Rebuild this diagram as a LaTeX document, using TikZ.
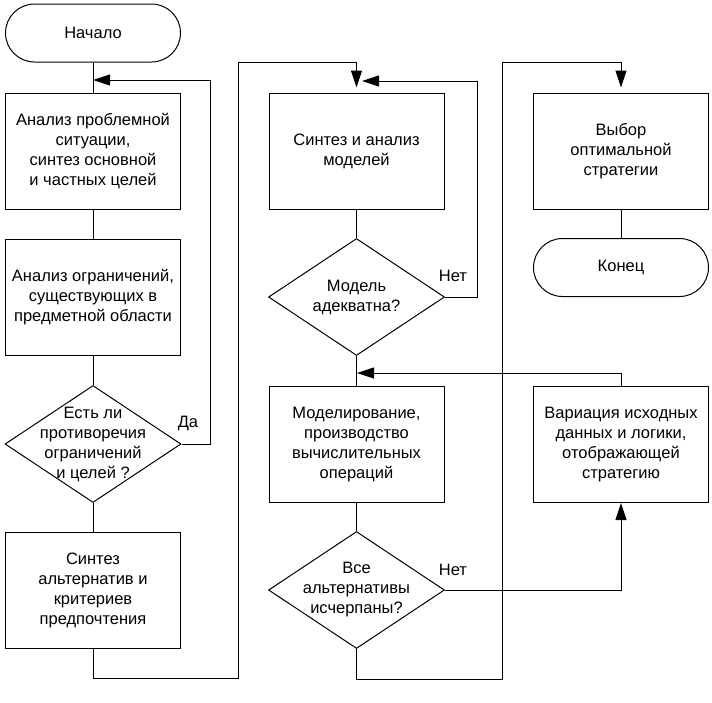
\documentclass[tikz,border=0pt]{standalone}
\usepackage{fontspec}
\setmainfont{Liberation Sans}
\usepackage{tikz}
\usetikzlibrary{positioning,arrows.meta,shapes.geometric}

\newcommand{\flowfont}{\fontsize{16.5}{20}\selectfont}

\tikzset{
  block/.style={draw, rectangle, minimum width=175pt, minimum height=116pt, inner sep=0pt, align=center, font=\flowfont},
  term/.style={draw, rectangle, rounded corners=29pt, minimum width=175pt, minimum height=58pt, inner sep=0pt, font=\flowfont},
  decision/.style={draw, diamond, minimum width=176pt, minimum height=117pt, inner sep=0pt},
  txt/.style={align=center, font=\flowfont, inner sep=0pt},
  arr/.style={-{Triangle[length=17pt,width=11pt]}},
}

\begin{document}
\begin{tikzpicture}[x=1pt, y=-1pt, line width=1pt]
\useasboundingbox (0,0) rectangle (712,702);

% First column
\node[term] (start) at (93,33) {Начало};
\node[block] (b1) at (93,151) {Анализ проблемной\\ситуации,\\синтез основной\\и частных целей};
\node[block] (b2) at (93,297) {Анализ ограничений,\\существующих в\\предметной области};
\node[decision, label={[txt]center:{Есть ли\\противоречия\\ограничений\\и целей ?}}] (d1) at (93,444) {};
\node[block] (b3) at (93,590) {Синтез\\альтернатив и\\критериев\\предпочтения};

% Second column
\node[block] (b4) at (356.5,151) {Синтез и анализ\\моделей};
\node[decision, label={[txt]center:{Модель\\адекватна?}}] (d2) at (356.5,297) {};
\node[block] (b5) at (356.5,444.5) {Моделирование,\\производство\\вычислительных\\операций};
\node[decision, label={[txt]center:{Все\\альтернативы\\исчерпаны?}}] (d3) at (356.5,590) {};

% Third column
\node[block] (b6) at (621,151) {Выбор\\оптимальной\\стратегии};
\node[term] (finish) at (621,267.5) {Конец};
\node[block] (b7) at (621,444.5) {Вариация исходных\\данных и логики,\\отображающей\\стратегию};

% Junctions on the main line
\coordinate (j1) at (93,80);
\coordinate (j2) at (357,81);
\coordinate (j3) at (357,373);

% Straight links
\draw (start) -- (b1);
\draw (b1) -- (b2);
\draw (b2) -- (d1);
\draw (d1) -- (b3);
\draw (b4) -- (d2);
\draw (d2) -- (b5);
\draw (b5) -- (d3);
\draw (b6) -- (finish);

% Loops and jumps
\draw[arr] (d1.east) -- ++(29,0) |- (j1);
\node[txt] (yes1) at (188,423) {Да};
\draw[arr, shorten >=5pt] (b3.south) -- ++(0,30) -| (238,62) -| (b4.north);
\draw[arr, shorten >=5pt] (d2.east) -- ++(32,0) |- (j2);
\node[txt] (no1) at (453,276) {Нет};
\draw[arr] (b7.north) |- (j3);
\draw[arr] (d3.east) -| (b7.south);
\node[txt] (no2) at (453,570) {Нет};
\draw[arr, shorten >=5pt] (d3.south) -- ++(0,30) -| (502,62) -| (b6.north);
\end{tikzpicture}
\end{document}
